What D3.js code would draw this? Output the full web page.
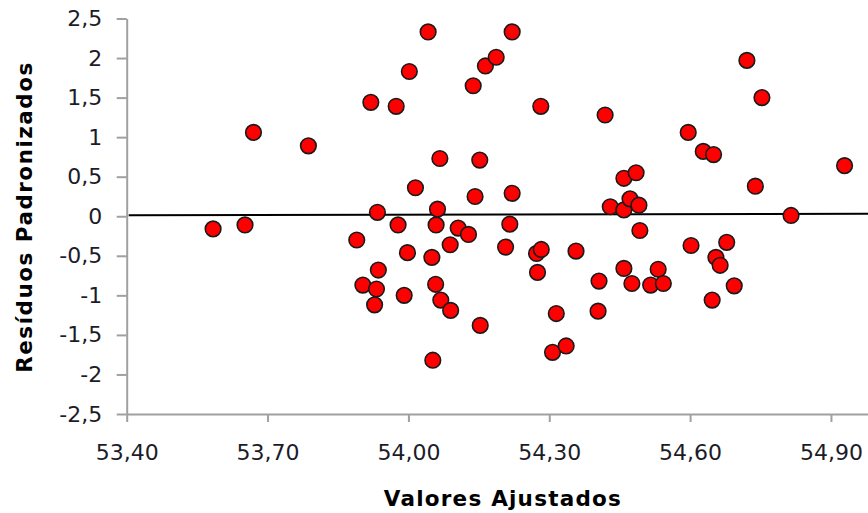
<!DOCTYPE html>
<html>
<head>
<meta charset="utf-8">
<script src="https://cdn.jsdelivr.net/npm/d3@7/dist/d3.min.js"></script>
<style>
  html, body { margin: 0; padding: 0; background: #fff; overflow: hidden; }
  svg { display: block; }
  text { font-family: "DejaVu Sans", Verdana, sans-serif; }
</style>
</head>
<body>
<svg id="chart" width="868" height="513"></svg>
<script>
// Fitted values (x) and standardized residuals (y), one entry per observation
const fittedValues = [
  53.584, 53.652, 53.670, 53.787, 53.890, 53.920, 53.934, 53.936, 53.903, 53.932,
  53.928, 53.974, 53.978, 53.991, 53.998, 54.002, 54.015, 54.042, 54.052, 54.050,
  54.059, 54.062, 54.058, 54.067, 54.069, 54.089, 54.090, 54.106, 54.128, 54.138,
  54.142, 54.152, 54.153, 54.164, 54.187, 54.207, 54.216, 54.221, 54.221, 54.273,
  54.283, 54.275, 54.282, 54.307, 54.315, 54.336, 54.357, 54.404, 54.406, 54.419,
  54.430, 54.459, 54.459, 54.459, 54.472, 54.476, 54.485, 54.491, 54.493, 54.516,
  54.532, 54.543, 54.596, 54.602, 54.628, 54.647, 54.650, 54.655, 54.664, 54.678,
  54.694, 54.721, 54.739, 54.753, 54.815, 54.929
];
const standardizedResiduals = [
  -0.16, -0.11, 1.06, 0.89, -0.30, 1.44, 0.05, -0.68, -0.87, -0.92,
  -1.12, 1.39, -0.11, -1.00, -0.46, 1.83, 0.36, 2.33, -1.82, -0.52,
  -0.11, 0.09, -0.86, 0.73, -1.06, -0.36, -1.19, -0.15, -0.23, 1.65,
  0.25, 0.71, -1.38, 1.90, 2.01, -0.39, -0.10, 0.29, 2.33, -0.47,
  -0.42, -0.71, 1.39, -1.72, -1.23, -1.64, -0.44, -1.20, -0.82, 1.28,
  0.12, 0.48, 0.08, -0.66, 0.22, -0.85, 0.55, 0.14, -0.18, -0.87,
  -0.67, -0.85, 1.06, -0.37, 0.82, -1.06, 0.78, -0.52, -0.62, -0.33,
  -0.88, 1.97, 0.38, 1.50, 0.01, 0.64
];

// Axis ticks
const xTickValues = [53.40, 53.70, 54.00, 54.30, 54.60, 54.90];
const yTickValues = [2.5, 2, 1.5, 1, 0.5, 0, -0.5, -1, -1.5, -2, -2.5];

const xTitle = "Valores Ajustados";
const yTitle = "Resíduos Padronizados";

const svg = d3.select("#chart");

const plot = { left: 126.7, top: 18.5, bottom: 414, right: 877.9 };

const x = d3.scaleLinear().domain([53.40, 55.00]).range([plot.left, plot.right]);
const y = d3.scaleLinear().domain([-2.5, 2.5]).range([plot.bottom, plot.top]);

const comma = s => s.replace(".", ",");
const fmtX = d => comma(d3.format(".2f")(d));
const fmtY = d => comma(String(d));

const axisColor = "#a0a0a0";
const labelColor = "#1c1c28";

// Y axis
const gy = svg.append("g")
  .attr("transform", `translate(${plot.left},0)`)
  .call(d3.axisLeft(y).tickValues(yTickValues).tickFormat(fmtY)
    .tickSize(10).tickSizeOuter(0).tickPadding(14.5));

// X axis
const gx = svg.append("g")
  .attr("transform", `translate(0,${plot.bottom})`)
  .call(d3.axisBottom(x).tickValues(xTickValues).tickFormat(fmtX)
    .tickSize(8).tickSizeOuter(0).tickPadding(22));

[gx, gy].forEach(g => {
  g.select(".domain").attr("stroke", axisColor).attr("stroke-width", 2);
  g.selectAll(".tick line").attr("stroke", axisColor).attr("stroke-width", 2);
  g.selectAll(".tick text")
    .attr("fill", labelColor)
    .style("font-size", "22px")
    .style("font-family", "'DejaVu Sans', Verdana, sans-serif");
});

// Zero reference line
svg.append("line")
  .attr("x1", x(53.40) + 2)
  .attr("x2", x(55.00))
  .attr("y1", y(0) - 1)
  .attr("y2", y(0) - 2.5)
  .attr("stroke", "#000")
  .attr("stroke-width", 2);

// Points
const points = fittedValues.map((v, i) => ({ fx: v, r: standardizedResiduals[i] }));
svg.append("g")
  .selectAll("circle")
  .data(points)
  .join("circle")
  .attr("cx", d => x(d.fx))
  .attr("cy", d => y(d.r))
  .attr("r", 7.8)
  .attr("fill", "#ff0000")
  .attr("stroke", "#1a1a1a")
  .attr("stroke-width", 1.6);

// Axis titles
svg.append("text")
  .attr("x", (plot.left + plot.right) / 2)
  .attr("y", 506)
  .attr("text-anchor", "middle")
  .attr("textLength", 237)
  .attr("lengthAdjust", "spacing")
  .style("font-size", "21.5px")
  .style("font-weight", "bold")
  .attr("fill", "#000")
  .text(xTitle);

svg.append("text")
  .attr("transform", `translate(32,${(plot.top + plot.bottom) / 2 + 1.5}) rotate(-90)`)
  .attr("text-anchor", "middle")
  .attr("textLength", 310)
  .attr("lengthAdjust", "spacing")
  .style("font-size", "21.5px")
  .style("font-weight", "bold")
  .attr("fill", "#000")
  .text(yTitle);
</script>
</body>
</html>
